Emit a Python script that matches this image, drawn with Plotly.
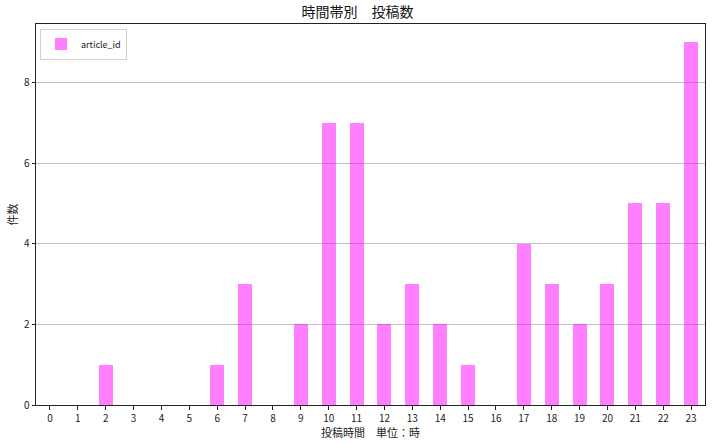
import plotly.graph_objects as go

hours = list(range(24))
hour_labels = [str(h) for h in hours]
article_counts = [0, 0, 1, 0, 0, 0, 1, 3, 0, 2, 7, 7, 2, 3, 2, 1, 0, 4, 3, 2, 3, 5, 5, 9]

FONT = "Noto Sans CJK JP, DejaVu Sans, sans-serif"

fig = go.Figure()
fig.add_trace(go.Bar(
    x=hours, y=article_counts, name="article_id",
    width=0.5, marker_color="rgba(255,0,255,0.5)", marker_line_width=0,
    showlegend=True,
))

fig.update_layout(
    width=715, height=443,
    margin=dict(l=36, r=10, t=24, b=38, autoexpand=False),
    paper_bgcolor="white", plot_bgcolor="white",
    font=dict(family=FONT, size=10, color="#222"),
    title=dict(text="時間帯別　投稿数", x=0.5, xanchor="center", y=0.972,
               yanchor="middle", font=dict(size=14, color="#111")),
    showlegend=True,
    legend=dict(x=0.006, y=0.988, xanchor="left", yanchor="top",
                bgcolor="white", bordercolor="#d0d0d0", borderwidth=1,
                font=dict(size=9), itemwidth=30),
    bargap=0,
)
fig.update_xaxes(
    range=[-0.5, 23.5], tickmode="array", tickvals=hours, ticktext=hour_labels,
    showgrid=False, showline=True, linecolor="#222", linewidth=1, mirror=True,
    ticks="outside", ticklen=3.5, tickcolor="#222", automargin=False,
    title=dict(text="投稿時間　単位：時", standoff=2, font=dict(size=11)),
    zeroline=False,
)
fig.update_yaxes(
    range=[0, 9.45], tickvals=[0, 2, 4, 6, 8],
    showgrid=True, gridcolor="#c0c0c0", gridwidth=1,
    showline=True, linecolor="#222", linewidth=1, mirror=True,
    ticks="outside", ticklen=3.5, tickcolor="#222", automargin=False,
    title=dict(text="件数", standoff=4, font=dict(size=11)),
    zeroline=False,
)

# drop the page's default body margin so the figure sits at the window's corner
fig.write_html("out.html", config={"displayModeBar": False},
               post_script="document.body.style.margin='0';")
